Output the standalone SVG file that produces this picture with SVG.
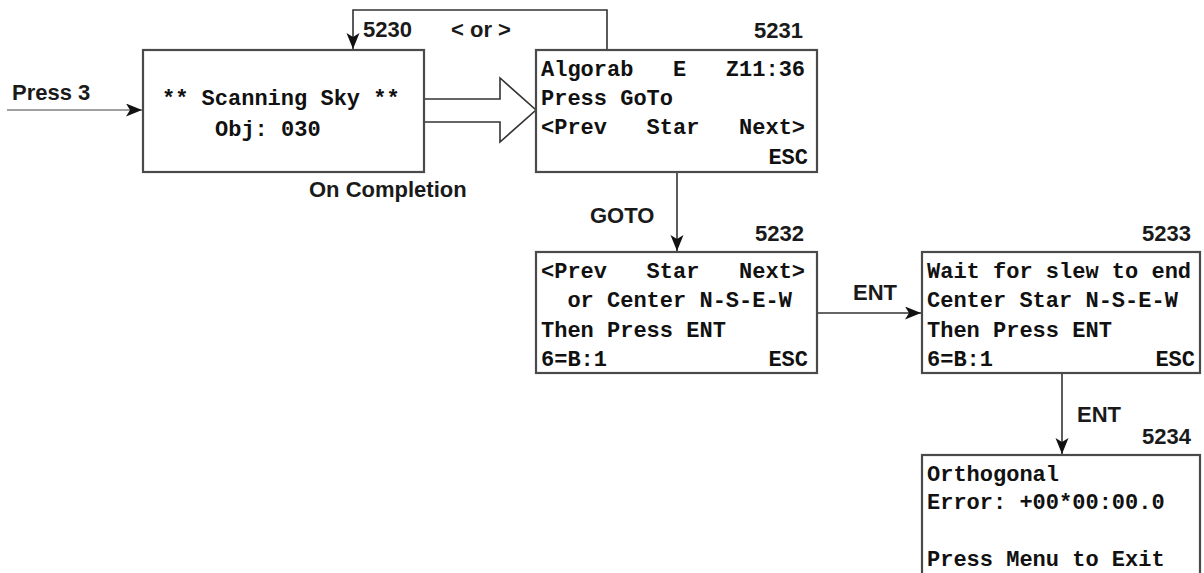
<svg xmlns="http://www.w3.org/2000/svg" width="1204" height="573" viewBox="0 0 1204 573" xml:space="preserve">
<style>
.box{fill:#fff;stroke:#4a4a4a;stroke-width:2.2}
.mono{font-family:"Liberation Mono","Courier New",monospace;font-weight:bold;font-size:22px;fill:#111;white-space:pre}
.lbl{font-family:"Liberation Sans",Arial,sans-serif;font-weight:bold;font-size:22px;fill:#1a1a1a}
.ln{fill:none;stroke:#333;stroke-width:1.6}
</style>
<defs>
<marker id="ah" markerUnits="userSpaceOnUse" markerWidth="18" markerHeight="14" refX="16" refY="6.5" orient="auto">
<path d="M0,0 L16,6.5 L0,13 L4,6.5 Z" fill="#111"/>
</marker>
</defs>
<rect width="1204" height="573" fill="#fff"/>
<g id="connectors">
<line x1="7" y1="110" x2="142" y2="110" stroke="#a0a0a0" stroke-width="2.2" marker-end="url(#ah)"/>
<polyline class="ln" points="607,50 607,10 353,10 353,49" marker-end="url(#ah)"/>
<polygon points="424,99 500,99 500,78 536,110 500,142 500,122 424,122" fill="#fff" stroke="#333" stroke-width="1.6"/>
<line class="ln" x1="677" y1="172" x2="677" y2="251" marker-end="url(#ah)"/>
<line class="ln" x1="817" y1="313" x2="921" y2="313" marker-end="url(#ah)"/>
<line class="ln" x1="1062" y1="373" x2="1062" y2="454" marker-end="url(#ah)"/>
<text class="lbl" x="12" y="100">Press 3</text>
<text class="lbl" x="363" y="37">5230</text>
<text class="lbl" x="451" y="37">&lt; or &gt;</text>
<text class="lbl" x="309" y="197">On Completion</text>
<text class="lbl" x="590" y="223">GOTO</text>
<text class="lbl" x="853" y="300">ENT</text>
<text class="lbl" x="1077" y="422">ENT</text>
</g>
<g id="n5230">
<rect class="box" x="143" y="50" width="281" height="122"/>
<text class="mono" x="162" y="105">** Scanning Sky **</text>
<text class="mono" x="215" y="136">Obj: 030</text>
</g>
<g id="n5231">
<text class="lbl" x="754" y="38">5231</text>
<rect class="box" x="536" y="50" width="281" height="122"/>
<text class="mono" x="541" y="76">Algorab   E   Z11:36</text>
<text class="mono" x="541" y="105">Press GoTo</text>
<text class="mono" x="541" y="134">&lt;Prev   Star   Next&gt;</text>
<text class="mono" x="808" y="164" text-anchor="end">ESC</text>
</g>
<g id="n5232">
<text class="lbl" x="755" y="241">5232</text>
<rect class="box" x="536" y="252" width="281" height="121"/>
<text class="mono" x="541" y="278">&lt;Prev   Star   Next&gt;</text>
<text class="mono" x="541" y="307">  or Center N-S-E-W</text>
<text class="mono" x="541" y="337">Then Press ENT</text>
<text class="mono" x="541" y="366">6=B:1</text>
<text class="mono" x="808" y="366" text-anchor="end">ESC</text>
</g>
<g id="n5233">
<text class="lbl" x="1142" y="241">5233</text>
<rect class="box" x="922" y="252" width="278" height="121"/>
<text class="mono" x="927" y="278">Wait for slew to end</text>
<text class="mono" x="927" y="307">Center Star N-S-E-W</text>
<text class="mono" x="927" y="337">Then Press ENT</text>
<text class="mono" x="927" y="366">6=B:1</text>
<text class="mono" x="1195" y="366" text-anchor="end">ESC</text>
</g>
<g id="n5234">
<text class="lbl" x="1142" y="444">5234</text>
<rect class="box" x="922" y="455" width="278" height="140"/>
<text class="mono" x="927" y="481">Orthogonal</text>
<text class="mono" x="927" y="509">Error: +00*00:00.0</text>
<text class="mono" x="927" y="566">Press Menu to Exit</text>
</g>
</svg>
